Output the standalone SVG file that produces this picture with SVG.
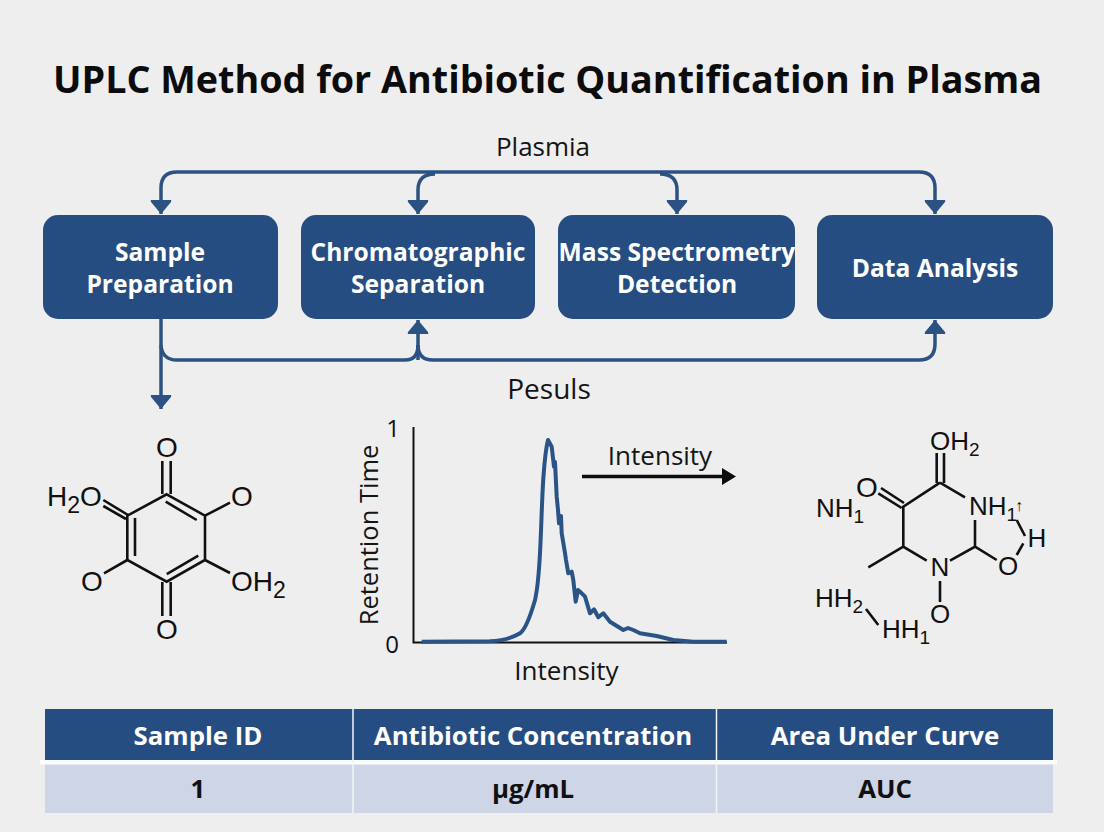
<svg xmlns="http://www.w3.org/2000/svg" width="1104" height="832" viewBox="0 0 1104 832">
<defs>
<marker id="ah" markerUnits="userSpaceOnUse" markerWidth="17" markerHeight="22" refX="15" refY="11" orient="auto"><path d="M1 1.5Q0.5 0.6 2 0.8L3 1L15 11L3 21L2 21.2Q0.5 21.4 1 20.5Z" fill="#2b5283"/></marker>
</defs>
<style>
text{font-family:"Open Sans","Noto Sans","Liberation Sans",sans-serif}
.t{font-size:26px;fill:#141414}
.b{font-size:24.6px;font-weight:700;fill:#fff;text-anchor:middle}
.h{font-size:25.8px;font-weight:700;fill:#fff;text-anchor:middle}
.c{font-size:25.8px;font-weight:700;fill:#111;text-anchor:middle}
.box{fill:#264d81}
.con{fill:none;stroke:#2b5283;stroke-width:3.5}
.arr{marker-end:url(#ah)}
.bond{fill:none;stroke:#111;stroke-width:2.6}
.a{font-family:"Liberation Sans",Arial,sans-serif;font-size:28px;fill:#111}
.a tspan{font-size:23px}
.r{font-family:"Liberation Sans",Arial,sans-serif;font-size:26px;fill:#111}
.r tspan{font-size:19px}
</style>
<rect width="1104" height="832" fill="#eeeeee"/>
<text x="547.5" y="93" text-anchor="middle" font-size="37.7" font-weight="700" fill="#0c0c0c">UPLC Method for Antibiotic Quantification in Plasma</text>
<text class="t" x="543" y="156" text-anchor="middle">Plasmia</text>
<text class="t" x="549" y="399" text-anchor="middle" style="font-size:28px">Pesuls</text>
<g id="connectors">
<path class="con arr" d="M548 172H177Q161 172 161 188V214"/>
<path class="con arr" d="M548 172H919Q935 172 935 188V214"/>
<path class="con arr" d="M435 174Q418 174 418 190V214"/>
<path class="con arr" d="M660 174Q677 174 677 190V214"/>
<path class="con arr" d="M161 319V409"/>
<path class="con" d="M161 345Q162 360 177 360H405Q418 360 418 345"/>
<path class="con arr" d="M418 360V320"/>
<path class="con arr" d="M418 345Q418 360 433 360H919Q935 360 935 344V320"/>
</g>
<g id="sample-preparation"><rect class="box" x="43" y="215" width="235" height="104" rx="15"/><text class="b" x="160" y="261">Sample</text><text class="b" x="160" y="293">Preparation</text></g>
<g id="chromatographic-separation"><rect class="box" x="301" y="215" width="234" height="104" rx="15"/><text class="b" x="418" y="261">Chromatographic</text><text class="b" x="418" y="293">Separation</text></g>
<g id="mass-spectrometry-detection"><rect class="box" x="558" y="215" width="237" height="104" rx="15"/><text class="b" x="677" y="261">Mass Spectrometry</text><text class="b" x="677" y="293">Detection</text></g>
<g id="data-analysis"><rect class="box" x="817" y="215" width="236" height="104" rx="15"/><text class="b" x="935" y="277">Data Analysis</text></g>
<g id="molecule-left">
<path class="bond" d="M166.7 494.3L205 515.7V560L166.7 581.7L127.3 560V515.7ZM135 518V556M165.7 501.7L196.7 520M166.7 574L198.3 555.7M162.3 461V494M170.7 461V494M162.3 582V616M170.7 582V616M103.3 500L128 515M103.3 506L126 519M205 515.7L230 502.7M127.3 560L104 573.3M205 560L230 573"/>
<text class="a" x="47" y="506">H<tspan dy="7">2</tspan><tspan dy="-7" style="font-size:28px">O</tspan></text>
<text class="a" x="167" y="457" text-anchor="middle">O</text>
<text class="a" x="242" y="506" text-anchor="middle">O</text>
<text class="a" x="92" y="591" text-anchor="middle">O</text>
<text class="a" x="231" y="591">OH<tspan dy="7">2</tspan></text>
<text class="a" x="167" y="639" text-anchor="middle">O</text>
</g>
<g id="chromatogram">
<path d="M413.5 427V642.5H727" fill="none" stroke="#111" stroke-width="2"/>
<path d="M421.7 641.7L490 641.3C500 641 512 638 520 633.3C526 629 531 614 535 600C538 587 539 572 540 553C541.5 525 542 495 543.5 476C544.5 462 545.5 450 548 440L551.7 446.7L553 458L554 466.7L555 462L556.7 496.7L558 510L559 523.3L561 516L561.7 533.3L565 553L566 560L568.3 573.3L571.7 571.7L573.3 580L575.7 601.7L578 590L580 591.7L585 596.7L590 613.3L594 609.3L598.3 617.3L603.3 613.3L610 621.7L623.3 630L628 628L633.3 630L640 633.3L656.7 636L673.3 640L693.3 641.7H726.7" fill="none" stroke="#2a5388" stroke-width="4" stroke-linejoin="round"/>
<text x="393" y="437" text-anchor="middle" font-size="24" fill="#111">1</text>
<text x="392" y="653" text-anchor="middle" font-size="24" fill="#111">0</text>
<text class="t" transform="translate(378 535) rotate(-90)" text-anchor="middle" style="font-size:25.5px">Retention Time</text>
<text class="t" x="660" y="465" text-anchor="middle">Intensity</text>
<text class="t" x="566.5" y="680" text-anchor="middle">Intensity</text>
<path d="M582 476.5H724" stroke="#0c0c0c" stroke-width="3.6"/>
<path d="M722 468L736 476.5L722 485Z" fill="#0c0c0c"/>
</g>
<g id="molecule-right">
<path class="bond" d="M936.7 453V483M944 453V483M940 482.7L965 497.3M975 520V546.7L950 560.7M926.7 560.7L903.3 546.7V506.7L940 482.7M901.7 508L878.3 493.3M904 503L881 488M903.3 546.7L868.3 567.3M975 546.7L996.7 560M1016.7 555L1023.3 543.3M1016.7 520L1025 536M866 609L878.3 625M940 581V602"/>
<text class="r" x="930" y="450">OH<tspan dy="6">2</tspan></text>
<text class="r" x="867" y="497" text-anchor="middle" style="font-size:28px">O</text>
<text class="r" x="816" y="517">NH<tspan dy="6">1</tspan></text>
<text class="r" x="969" y="515">NH<tspan dy="6">1</tspan></text>
<text class="r" x="1019" y="511" text-anchor="middle" style="font-size:16px">↑</text>
<text class="r" x="1037" y="547" text-anchor="middle">H</text>
<text class="r" x="1008" y="575" text-anchor="middle">O</text>
<text class="r" x="940" y="576" text-anchor="middle">N</text>
<text class="r" x="940" y="623" text-anchor="middle">O</text>
<text class="r" x="815" y="607">HH<tspan dy="6">2</tspan></text>
<text class="r" x="882" y="638">HH<tspan dy="6">1</tspan></text>
</g>
<g id="table">
<rect x="45" y="709" width="1008" height="51" fill="#264d81"/>
<rect x="45" y="764" width="1008" height="49" fill="#cdd5e6"/>
<rect x="40" y="760" width="1017" height="4.5" fill="#fbfcfc"/>
<path d="M353 709V813M716.5 709V813" stroke="#f4f6f8" stroke-width="1.5"/>
<text class="h" x="198" y="745">Sample ID</text>
<text class="h" x="533" y="745">Antibiotic Concentration</text>
<text class="h" x="885" y="745">Area Under Curve</text>
<text class="c" x="198" y="798">1</text>
<text class="c" x="533" y="798">µg/mL</text>
<text class="c" x="885" y="798">AUC</text>
</g>
</svg>
